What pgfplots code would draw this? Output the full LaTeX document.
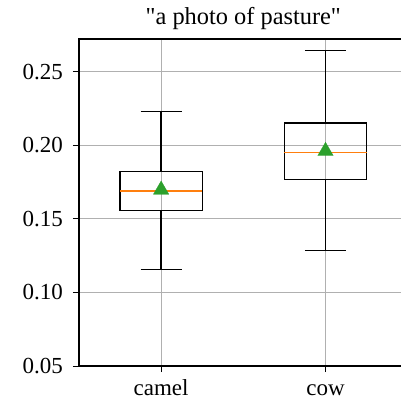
\documentclass[border=0pt]{standalone}
\usepackage{pgfplots}
\pgfplotsset{compat=1.18}
\usepackage{fontspec}
\setmainfont{Liberation Serif}
\definecolor{mplorange}{HTML}{FF7F0E}
\definecolor{mplgreen}{HTML}{2CA02C}
\definecolor{gridgray}{HTML}{B0B0B0}
\begin{document}
\begin{tikzpicture}
\begin{axis}[
  scale only axis,
  width=164.5pt, height=163.65pt,
  xmin=0.5, xmax=2.5,
  ymin=0.05, ymax=0.2722,
  xtick={1,2}, xticklabels={camel,cow},
  ytick={0.05,0.10,0.15,0.20,0.25},
  yticklabel style={/pgf/number format/fixed, /pgf/number format/fixed zerofill, /pgf/number format/precision=2, xshift=-1.5pt},
  /pgf/number format/assume math mode=true,
  tick align=outside,
  major tick length=3pt,
  xtick pos=bottom, ytick pos=left,
  tick style={black, line width=0.5pt},
  grid=major,
  major grid style={gridgray, line width=0.5pt},
  axis line style={black, line width=0.6pt},
  tick label style={font=\fontsize{11.5}{13}\selectfont},
  xticklabel style={text height=1.6ex, text depth=0.3ex, yshift=-1pt},
  title={\textquotedbl a photo of pasture\textquotedbl},
  title style={font=\fontsize{12.2}{14}\selectfont, yshift=-5pt},
  clip=false,
]
% camel
\addplot[black, line width=0.65pt, line cap=rect, line join=miter] coordinates {(0.75,0.1556) (1.25,0.1556) (1.25,0.1823) (0.75,0.1823) (0.75,0.1556)};
\addplot[black, line width=0.65pt] coordinates {(1,0.1556) (1,0.1158)};
\addplot[black, line width=0.65pt] coordinates {(1,0.1823) (1,0.2230)};
\addplot[black, line width=0.65pt] coordinates {(0.875,0.1158) (1.125,0.1158)};
\addplot[black, line width=0.65pt] coordinates {(0.875,0.2230) (1.125,0.2230)};
\addplot[mplorange, line width=0.65pt] coordinates {(0.75,0.1690) (1.25,0.1690)};
% cow
\addplot[black, line width=0.65pt, line cap=rect, line join=miter] coordinates {(1.75,0.1767) (2.25,0.1767) (2.25,0.2151) (1.75,0.2151) (1.75,0.1767)};
\addplot[black, line width=0.65pt] coordinates {(2,0.1767) (2,0.1287)};
\addplot[black, line width=0.65pt] coordinates {(2,0.2151) (2,0.2645)};
\addplot[black, line width=0.65pt] coordinates {(1.875,0.1287) (2.125,0.1287)};
\addplot[black, line width=0.65pt] coordinates {(1.875,0.2645) (2.125,0.2645)};
\addplot[mplorange, line width=0.65pt] coordinates {(1.75,0.1950) (2.25,0.1950)};
% means
\addplot[only marks, mark=triangle*, mark size=4.5pt, mark options={fill=mplgreen, draw=mplgreen, line width=0.1pt}] coordinates {(1,0.1697) (2,0.1960)};
\end{axis}
\pgfresetboundingbox
\useasboundingbox (-39.5pt,-20pt) rectangle (161pt,183.15pt);
\end{tikzpicture}
\end{document}
